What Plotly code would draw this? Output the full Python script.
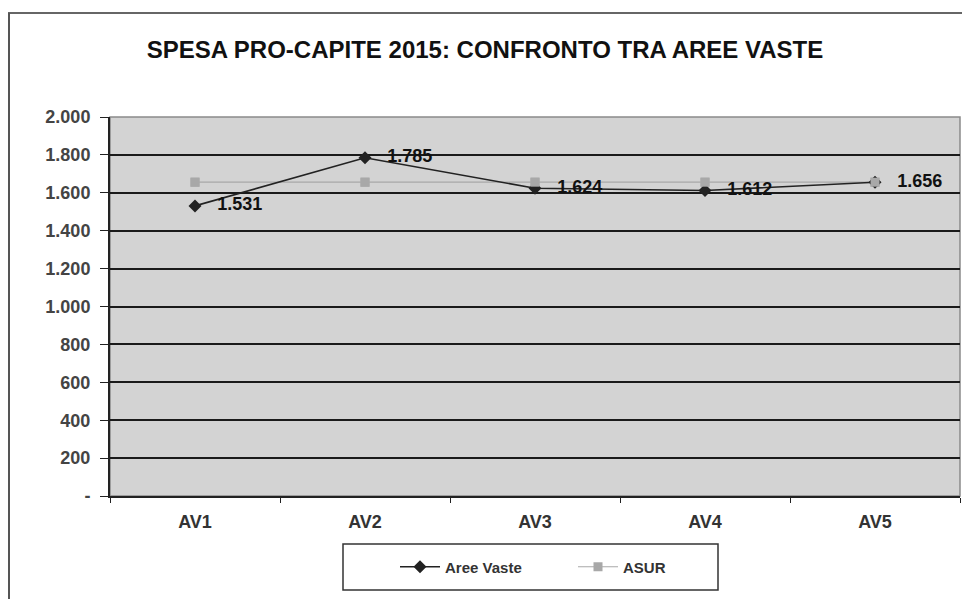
import plotly.graph_objects as go

categories = ["AV1", "AV2", "AV3", "AV4", "AV5"]
aree_vaste = [1531, 1785, 1624, 1612, 1656]
asur = [1656, 1656, 1656, 1656, 1656]
y_tickvals = [0, 200, 400, 600, 800, 1000, 1200, 1400, 1600, 1800, 2000]
y_ticktext = ["-", "200", "400", "600", "800", "1.000", "1.200", "1.400", "1.600", "1.800", "2.000"]

# page is rendered with an 8px body margin; design in page coords, convert
OFF = 8
W, H = 970 - OFF, 599 - OFF
PL, PR, PT, PB = 110, 960, 117, 496  # plot area in page coords
L, T = PL - OFF, PT - OFF
R = W - (PR - OFF)
B = H - (PB - OFF)
pw, ph = W - L - R, H - T - B

def px(x):
    return (x - OFF - L) / pw

def py(y):
    return (H - B - (y - OFF)) / ph

FONT = "Liberation Sans, Arial, sans-serif"

fig = go.Figure()
fig.add_trace(go.Scatter(
    x=categories, y=asur, name="ASUR", mode="lines+markers",
    line=dict(color="#a8a8a8", width=1.2),
    marker=dict(symbol="square", size=9, color="#a8a8a8"),
    showlegend=False,
))
fig.add_trace(go.Scatter(
    x=categories, y=aree_vaste, name="Aree Vaste", mode="lines+markers+text",
    line=dict(color="#222222", width=1.6),
    marker=dict(symbol="diamond", size=10, color="#222222"),
    texttemplate="   %{y:,.0f}", textposition="middle right",
    textfont=dict(family=FONT, size=18, color="#111111", weight="bold"),
))
# ASUR marker on top at coinciding points, and legend entry
fig.add_trace(go.Scatter(
    x=categories, y=asur, name="ASUR", mode="lines+markers",
    line=dict(color="rgba(168,168,168,0)", width=1.2),
    marker=dict(symbol="square", size=9, color="#a8a8a8"),
    showlegend=False,
))
fig.add_trace(go.Scatter(
    x=[None], y=[None], name="ASUR", mode="lines+markers",
    line=dict(color="#a8a8a8", width=1.2),
    marker=dict(symbol="square", size=9, color="#a8a8a8"),
))

shapes = [
    dict(type="rect", xref="paper", yref="paper", x0=0, x1=1, y0=0, y1=1,
         line=dict(color="#8a8a8a", width=1.5), layer="below"),
    dict(type="line", xref="paper", yref="paper", x0=px(0), x1=px(975), y0=py(13), y1=py(13),
         line=dict(color="#666666", width=2)),
    dict(type="line", xref="paper", yref="paper", x0=px(9), x1=px(9), y0=py(13), y1=py(605),
         line=dict(color="#555555", width=2)),
    dict(type="rect", xref="paper", yref="paper", x0=px(343), x1=px(718), y0=py(590), y1=py(544),
         line=dict(color="#333333", width=1.5), fillcolor="white"),
]

fig.update_layout(
    width=W, height=H,
    margin=dict(l=L, r=R, t=T, b=B),
    paper_bgcolor="white", plot_bgcolor="#d3d3d3",
    separators=",.",
    title=dict(text="SPESA PRO-CAPITE 2015: CONFRONTO TRA AREE VASTE",
               x=(485 - OFF) / W, xref="container", xanchor="center",
               y=1 - (50 - OFF) / H, yref="container", yanchor="middle",
               font=dict(family=FONT, size=24, color="#111111", weight="bold")),
    showlegend=True,
    legend=dict(orientation="h", x=px(395), xanchor="left", y=py(567), yanchor="middle",
                bgcolor="rgba(0,0,0,0)", borderwidth=0, entrywidth=123, itemwidth=40,
                font=dict(family=FONT, size=15, color="#333333", weight="bold")),
    shapes=shapes,
    xaxis=dict(type="category", range=[-0.5, 4.5], showgrid=False, showline=True,
               linecolor="#222222", linewidth=2, ticks="outside", tickson="boundaries",
               ticklen=5, tickcolor="#222222", ticklabelstandoff=8,
               tickfont=dict(family=FONT, size=18, color="#333333", weight="bold")),
    yaxis=dict(range=[0, 2000], tickvals=y_tickvals, ticktext=y_ticktext,
               showgrid=True, gridcolor="#1a1a1a", gridwidth=2, showline=True,
               linecolor="#222222", linewidth=2, ticks="outside", ticklen=8, tickcolor="#222222",
               zeroline=False, ticklabelstandoff=6,
               tickfont=dict(family=FONT, size=18, color="#444444", weight="bold")),
)

fig.write_html("out.html")
